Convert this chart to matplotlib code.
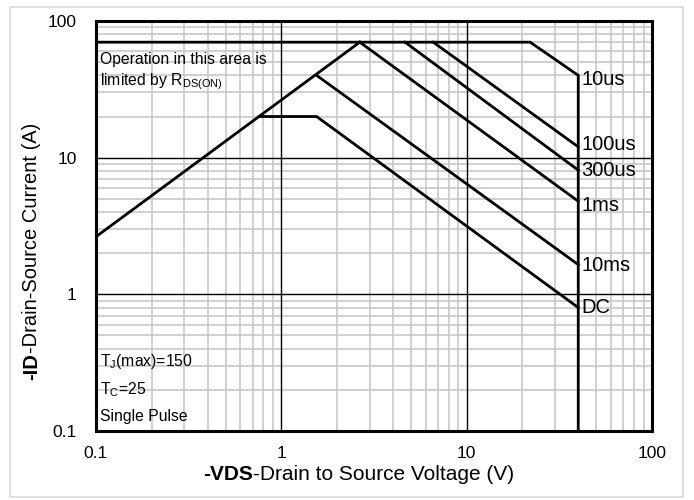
import matplotlib.pyplot as plt
from matplotlib.patches import Rectangle

plt.rcParams['font.family'] = ['Liberation Sans', 'DejaVu Sans']
plt.rcParams['mathtext.default'] = 'regular'

# SOA curves (V in volts, I in amps)
rds_v = [0.1, 2.65]
rds_i = [2.64, 70]

us10_v = [0.1, 22, 40, 40]
us10_i = [70, 70, 40, 0.1]

us100_v = [6.6, 40]
us100_i = [70, 12.0]

us300_v = [4.65, 40]
us300_i = [70, 8.1]

ms1_v = [2.65, 40]
ms1_i = [70, 4.8]

ms10_v = [1.55, 40]
ms10_i = [40, 1.65]

dc_v = [0.76, 1.55, 40]
dc_i = [20, 20, 0.8]

curve_names = ['10us', '100us', '300us', '1ms', '10ms', 'DC']
label_i = [37.5, 12.4, 8.0, 4.5, 1.63, 0.8]

xticks = [0.1, 1, 10, 100]
xticklabels = ['0.1', '1', '10', '100']
yticks = [0.1, 1, 10, 100]
yticklabels = ['0.1', '1', '10', '100']

fig = plt.figure(figsize=(6.94, 5.0), dpi=100)
ax = fig.add_axes([96/694, 1 - 431/500, (652-96)/694, (431-21)/500])

# grey frame around the whole chart
fig.patches.append(Rectangle((10/694, 3/500), 673/694, 490/500, transform=fig.transFigure,
                             fill=False, edgecolor='#d9d9d9', linewidth=1.2))

ax.set_xscale('log')
ax.set_yscale('log')
ax.set_xlim(0.1, 100)
ax.set_ylim(0.1, 100)

# light minor grid, dark decade lines drawn on top of it
ax.grid(True, which='minor', color='#c8c8c8', linewidth=1.2, zorder=0.5)
ax.set_axisbelow(True)
for t in xticks[1:-1]:
    ax.axvline(t, color='black', linewidth=1.0, zorder=1)
for t in yticks[1:-1]:
    ax.axhline(t, color='black', linewidth=1.0, zorder=1)

lw = 2.0
for v, i in [(rds_v, rds_i), (us10_v, us10_i), (us100_v, us100_i), (us300_v, us300_i),
             (ms1_v, ms1_i), (ms10_v, ms10_i), (dc_v, dc_i)]:
    ax.plot(v, i, color='black', linewidth=lw, solid_joinstyle='miter', zorder=3)

for name, yi in zip(curve_names, label_i):
    ax.text(41.5, yi, name, fontsize=14.5, ha='left', va='center')

ax.text(0.105, 52, 'Operation in this area is', fontsize=11.3, ha='left', va='center')
ax.text(0.105, 36, r'limited by R$_{DS(ON)}$', fontsize=11.3, ha='left', va='center')
ax.text(0.105, 0.32, r'T$_{J}$(max)=150', fontsize=11.3, ha='left', va='center')
ax.text(0.105, 0.20, r'T$_{C}$=25', fontsize=11.3, ha='left', va='center')
ax.text(0.105, 0.128, 'Single Pulse', fontsize=11.3, ha='left', va='center')

ax.set_xticks(xticks)
ax.set_xticklabels(xticklabels)
ax.set_yticks(yticks)
ax.set_yticklabels(yticklabels)
ax.tick_params(which='both', length=0)
ax.tick_params(axis='x', pad=11, labelsize=12.5)
ax.tick_params(axis='y', pad=14, labelsize=12.5)

for s in ax.spines.values():
    s.set_linewidth(2.2)
    s.set_zorder(4)

# axis labels with a bold symbol part
xb = fig.text(203/694, 1 - 475/500, '-VDS', fontsize=15, fontweight='bold', ha='left', va='center')
ax.annotate('-Drain to Source Voltage (V)', xy=(1, 0.5), xycoords=xb, fontsize=15,
            ha='left', va='center')
yb = fig.text(32/694, 1 - 380/500, '-ID', fontsize=14.5, fontweight='bold', rotation=90,
              ha='center', va='bottom')
ax.annotate('-Drain-Source Current (A)', xy=(0.5, 1), xycoords=yb, fontsize=14.5,
            rotation=90, ha='center', va='bottom')

fig.savefig('out.png', dpi=100)
